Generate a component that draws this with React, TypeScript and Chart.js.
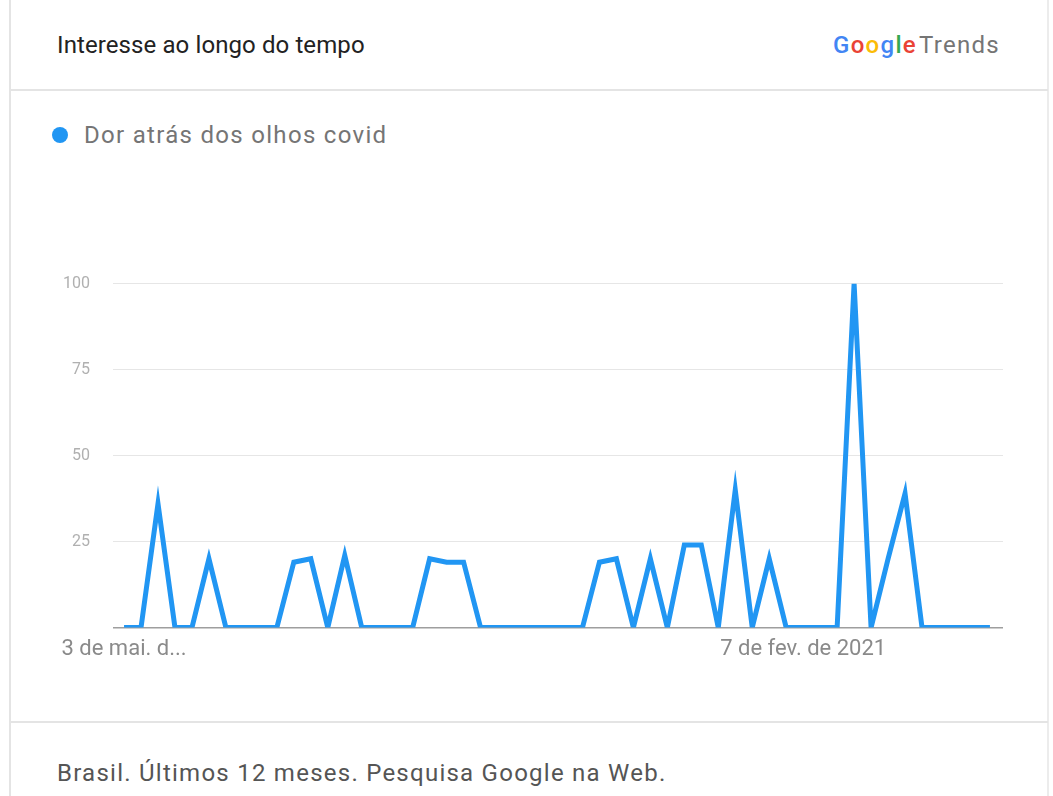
import React, { useEffect, useRef } from "react";
import { Chart, registerables } from "chart.js";

Chart.register(...registerables);

const seriesName = "Dor atrás dos olhos covid";
const weekLabels = [
  "3 de mai. de 2020", "10 de mai. de 2020", "17 de mai. de 2020", "24 de mai. de 2020", "31 de mai. de 2020",
  "7 de jun. de 2020", "14 de jun. de 2020", "21 de jun. de 2020", "28 de jun. de 2020",
  "5 de jul. de 2020", "12 de jul. de 2020", "19 de jul. de 2020", "26 de jul. de 2020",
  "2 de ago. de 2020", "9 de ago. de 2020", "16 de ago. de 2020", "23 de ago. de 2020", "30 de ago. de 2020",
  "6 de set. de 2020", "13 de set. de 2020", "20 de set. de 2020", "27 de set. de 2020",
  "4 de out. de 2020", "11 de out. de 2020", "18 de out. de 2020", "25 de out. de 2020",
  "1 de nov. de 2020", "8 de nov. de 2020", "15 de nov. de 2020", "22 de nov. de 2020", "29 de nov. de 2020",
  "6 de dez. de 2020", "13 de dez. de 2020", "20 de dez. de 2020", "27 de dez. de 2020",
  "3 de jan. de 2021", "10 de jan. de 2021", "17 de jan. de 2021", "24 de jan. de 2021", "31 de jan. de 2021",
  "7 de fev. de 2021", "14 de fev. de 2021", "21 de fev. de 2021", "28 de fev. de 2021",
  "7 de mar. de 2021", "14 de mar. de 2021", "21 de mar. de 2021", "28 de mar. de 2021",
  "4 de abr. de 2021", "11 de abr. de 2021", "18 de abr. de 2021", "25 de abr. de 2021",
];
const interest = [
  0, 0, 36, 0, 0, 20, 0, 0, 0, 0,
  19, 20, 0, 21, 0, 0, 0, 0, 20, 19,
  19, 0, 0, 0, 0, 0, 0, 0, 19, 20,
  0, 20, 0, 24, 24, 0, 40, 0, 20, 0,
  0, 0, 0, 100, 0, 20, 39, 0, 0, 0,
  0, 0,
];
const xTickIndices = [0, 40];
const xTickTexts = ["3 de mai. d...", "7 de fev. de 2021"];
const yTicks = [0, 25, 50, 75, 100];

const FONT = "Roboto, 'Noto Sans', sans-serif";
const LINE_COLOR = "#2196f3";

export default function App() {
  const canvasRef = useRef<HTMLCanvasElement | null>(null);

  useEffect(() => {
    document.body.style.margin = "0";
    const canvas = canvasRef.current;
    if (!canvas) return;
    const chart = new Chart(canvas, {
      type: "line",
      data: {
        datasets: [
          {
            label: seriesName,
            data: interest.map((v, i) => ({ x: i, y: v })),
            borderColor: LINE_COLOR,
            backgroundColor: LINE_COLOR,
            borderWidth: 5,
            pointRadius: 0,
            tension: 0,
          },
        ],
      },
      options: {
        animation: false,
        responsive: false,
        maintainAspectRatio: false,
        layout: { padding: { top: 20, right: 50, left: 0, bottom: 0 } },
        plugins: {
          legend: { display: false },
          tooltip: { enabled: false },
        },
        scales: {
          x: {
            type: "linear",
            min: -0.65,
            max: 51.77,
            grid: { display: false },
            border: { display: false },
            afterBuildTicks: (scale: any) => {
              scale.ticks = xTickIndices.map((v) => ({ value: v }));
            },
            ticks: {
              autoSkip: false,
              maxRotation: 0,
              padding: 1,
              color: "#8a8a8a",
              font: { family: FONT, size: 22 },
              callback: (value: any) => {
                const k = xTickIndices.indexOf(Number(value));
                return k >= 0 ? xTickTexts[k] : weekLabels[Number(value)] ?? "";
              },
            },
          },
          y: {
            min: 0,
            max: 100,
            afterBuildTicks: (scale: any) => {
              scale.ticks = yTicks.map((v) => ({ value: v }));
            },
            afterFit: (scale: any) => {
              scale.width = 113;
            },
            border: { display: false },
            grid: {
              drawTicks: false,
              color: (ctx: any) => (ctx.tick && ctx.tick.value === 0 ? "#9e9e9e" : "#e6e6e6"),
              lineWidth: (ctx: any) => (ctx.tick && ctx.tick.value === 0 ? 1.5 : 1),
            },
            ticks: {
              padding: 23,
              color: "#b0b0b0",
              font: { family: FONT, size: 16 },
              callback: (value: any) => (Number(value) === 0 ? "" : String(value)),
            },
          },
        },
      },
    });
    return () => chart.destroy();
  }, []);

  const googleLetters: [string, string][] = [
    ["G", "#4285f4"],
    ["o", "#ea4335"],
    ["o", "#fbbc05"],
    ["g", "#4285f4"],
    ["l", "#34a853"],
    ["e", "#ea4335"],
  ];

  return (
    <div style={{ position: "relative", width: 1053, height: 796, background: "#fff", fontFamily: FONT, overflow: "hidden" }}>
      <div
        style={{
          position: "absolute",
          left: 9,
          top: 0,
          width: 1040,
          height: 796,
          borderLeft: "2px solid #e4e4e4",
          borderRight: "2px solid #ececec",
          boxSizing: "border-box",
        }}
      />
      <div style={{ position: "absolute", left: 10, top: 89, width: 1038, height: 2, background: "#e4e4e4" }} />
      <div style={{ position: "absolute", left: 10, top: 721, width: 1038, height: 2, background: "#e4e4e4" }} />
      <div style={{ position: "absolute", left: 57, top: 31, fontSize: 24, color: "#222", lineHeight: "28px", letterSpacing: "0.1px", whiteSpace: "nowrap" }}>
        Interesse ao longo do tempo
      </div>
      <div style={{ position: "absolute", left: 833, top: 31, fontSize: 24, lineHeight: "28px", whiteSpace: "nowrap", letterSpacing: "1.3px" }}>
        <span style={{ fontWeight: 500 }}>
          {googleLetters.map(([c, col], i) => (
            <span key={i} style={{ color: col }}>
              {c}
            </span>
          ))}
        </span>
        <span style={{ color: "#757575", marginLeft: 2 }}>Trends</span>
      </div>
      <div
        style={{
          position: "absolute",
          left: 52,
          top: 127,
          width: 16,
          height: 16,
          borderRadius: 8,
          background: LINE_COLOR,
        }}
      />
      <div style={{ position: "absolute", left: 84, top: 121, fontSize: 24, color: "#757575", lineHeight: "28px", letterSpacing: "1.3px", whiteSpace: "nowrap" }}>
        {seriesName}
      </div>
      <canvas
        ref={canvasRef}
        width={1053}
        height={413}
        style={{ position: "absolute", left: 0, top: 251, width: 1053, height: 413 }}
      />
      <div style={{ position: "absolute", left: 57, top: 759, fontSize: 24, color: "#555", lineHeight: "28px", letterSpacing: "1.25px", whiteSpace: "nowrap" }}>
        Brasil. Últimos 12 meses. Pesquisa Google na Web.
      </div>
    </div>
  );
}
